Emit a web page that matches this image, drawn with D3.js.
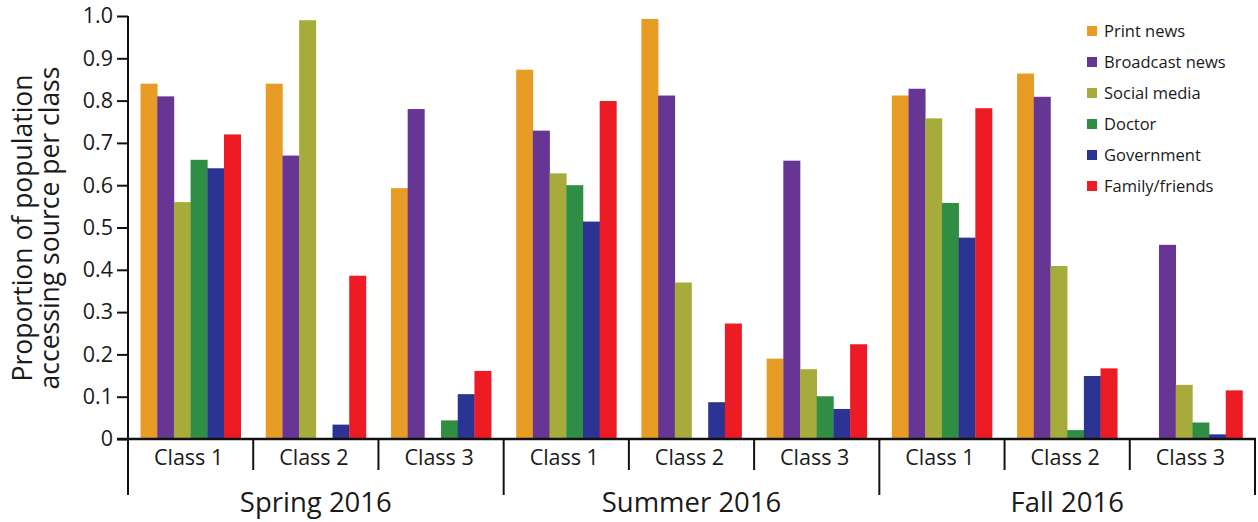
<!DOCTYPE html>
<html><head><meta charset="utf-8">
<script src="https://cdn.jsdelivr.net/npm/d3@7/dist/d3.min.js"></script>
<style>body{margin:0;background:#fff}svg{display:block}text{font-family:"Open Sans",sans-serif;fill:#1a1a1a}</style>
</head><body>
<svg id="c" width="1258" height="522"></svg>
<script>
const seasons = ["Spring 2016","Summer 2016","Fall 2016"];
const classes = ["Class 1","Class 2","Class 3"];
const series = ["Print news","Broadcast news","Social media","Doctor","Government","Family/friends"];
const colors = ["#E79C25","#673695","#A6AB3B","#2F8E43","#2B3393","#ED1C24"];
const yTicks = [0,0.1,0.2,0.3,0.4,0.5,0.6,0.7,0.8,0.9,1.0];
const yTickLabels = ["0","0.1","0.2","0.3","0.4","0.5","0.6","0.7","0.8","0.9","1.0"];
// values per group (season/class), in series order
const spring1 = [0.84,0.81,0.56,0.66,0.64,0.72];
const spring2 = [0.84,0.67,0.99,0,0.034,0.386];
const spring3 = [0.593,0.78,0,0.044,0.106,0.161];
const summer1 = [0.873,0.729,0.628,0.600,0.514,0.799];
const summer2 = [0.993,0.812,0.370,0,0.087,0.273];
const summer3 = [0.190,0.658,0.165,0.101,0.071,0.224];
const fall1 = [0.812,0.828,0.758,0.558,0.476,0.782];
const fall2 = [0.864,0.809,0.409,0.021,0.149,0.167];
const fall3 = [0,0.459,0.128,0.039,0.011,0.115];

const groups = [spring1,spring2,spring3,summer1,summer2,summer3,fall1,fall2,fall3];
const keys = [];
seasons.forEach(s=>classes.forEach(c=>keys.push(s+"|"+c)));

const svg = d3.select("#c");
const x0 = d3.scaleBand().domain(keys).range([128,1255]).paddingInner(0).paddingOuter(0);
const x1 = d3.scaleBand().domain(series).range([0,x0.bandwidth()]).paddingInner(0).paddingOuter(0.75);
const xs = d3.scaleBand().domain(seasons).range([128,1255]);
const y = d3.scaleLinear().domain([0,1]).range([439,16]);

// bars
groups.forEach((vals,gi)=>{
  const g = svg.append("g").attr("transform",`translate(${x0(keys[gi])},0)`);
  g.selectAll("rect").data(vals).join("rect")
    .attr("x",(d,i)=>x1(series[i]))
    .attr("width",x1.bandwidth()+0.3)
    .attr("y",d=>y(d))
    .attr("height",d=>y(0)-y(d))
    .attr("fill",(d,i)=>colors[i]);
});

// y axis
const yAxis = d3.axisLeft(y).tickValues(yTicks).tickFormat((d,i)=>yTickLabels[i]).tickSize(11).tickPadding(4);
const ya = svg.append("g").attr("transform","translate(128,0)").call(yAxis);
ya.select(".domain").attr("d","M0,16V439").attr("stroke","#111").attr("stroke-width",2);
ya.selectAll(".tick line").attr("stroke","#111").attr("stroke-width",2);
ya.selectAll(".tick text").style("font-family","'Open Sans',sans-serif").style("font-size","21.5px").attr("fill","#1a1a1a");

// x axis line
svg.append("line").attr("x1",117).attr("x2",1256).attr("y1",y(0)).attr("y2",y(0)).attr("stroke","#111").attr("stroke-width",2.5);

// class dividers
const classDiv = keys.map(k=>x0(k)).concat([1255]);
classDiv.forEach((xv,i)=>{
  const long = (i%3===0);
  svg.append("line").attr("x1",xv).attr("x2",xv).attr("y1",y(0)).attr("y2",long?495:470)
    .attr("stroke","#111").attr("stroke-width",2);
});

// class labels
svg.append("g").selectAll("text").data(keys).join("text")
  .attr("x",k=>x0(k)+x0.bandwidth()/2-2).attr("y",465)
  .attr("text-anchor","middle").style("font-size","21.5px")
  .text(k=>k.split("|")[1]);

// season labels
svg.append("g").selectAll("text").data(seasons).join("text")
  .attr("x",s=>xs(s)+xs.bandwidth()/2).attr("y",512)
  .attr("text-anchor","middle").style("font-size","27.5px")
  .text(s=>s);

// y title
const yt = svg.append("text").attr("transform","translate(0,228) rotate(-90)").attr("text-anchor","middle").style("font-size","26.5px");
yt.append("tspan").attr("x",0).attr("y",32).text("Proportion of population");
yt.append("tspan").attr("x",0).attr("y",59).text("accessing source per class");

// legend
const lg = svg.append("g").attr("transform","translate(1087,0)");
series.forEach((s,i)=>{
  const cy = 31 + i*31;
  lg.append("rect").attr("x",0).attr("y",cy-5).attr("width",10).attr("height",10).attr("fill",colors[i]);
  lg.append("text").attr("x",17).attr("y",cy+6).style("font-size","16.5px").text(s);
});
</script>
</body></html>
